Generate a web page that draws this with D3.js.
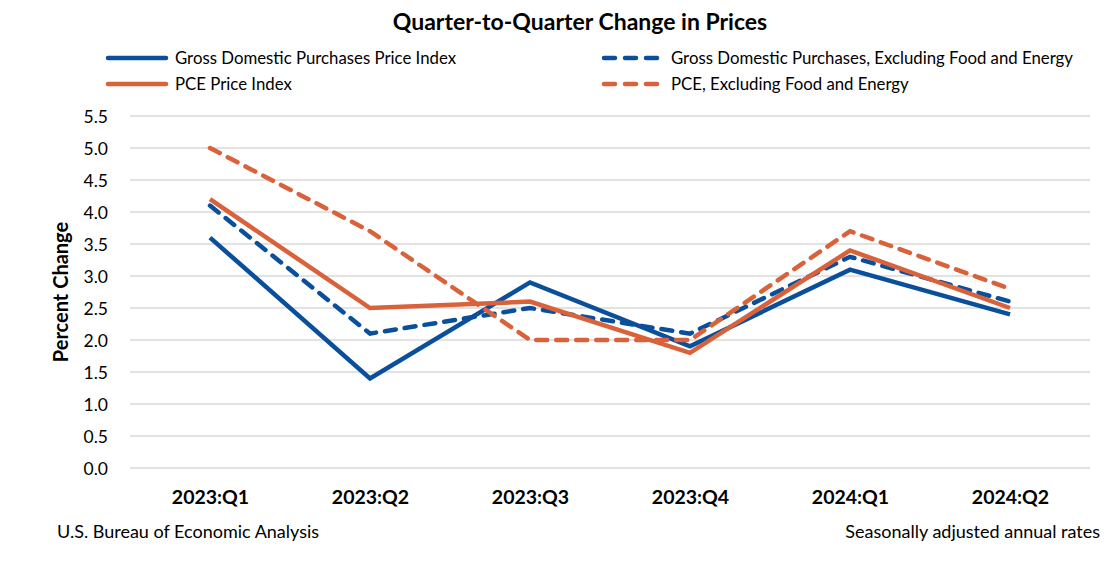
<!DOCTYPE html>
<html><head><meta charset="utf-8">
<script src="https://cdn.jsdelivr.net/npm/d3@7"></script>
<style>body{margin:0;background:#fff;} svg{display:block;font-family:Lato, "Open Sans", sans-serif;}</style>
</head><body>
<svg id="chart" width="1116" height="569"></svg>
<script>
const categories = ["2023:Q1","2023:Q2","2023:Q3","2023:Q4","2024:Q1","2024:Q2"];
const gdpPrice = [3.6, 1.4, 2.9, 1.9, 3.1, 2.4];
const gdpCore = [4.1, 2.1, 2.5, 2.1, 3.3, 2.6];
const pcePrice = [4.2, 2.5, 2.6, 1.8, 3.4, 2.5];
const pceCore = [5.0, 3.7, 2.0, 2.0, 3.7, 2.8];
const yTicks = [0,0.5,1,1.5,2,2.5,3,3.5,4,4.5,5,5.5];
const seriesNames = ["Gross Domestic Purchases Price Index","Gross Domestic Purchases, Excluding Food and Energy","PCE Price Index","PCE, Excluding Food and Energy"];

(function(){
const blue = "#0a4f9b", orange = "#d9623b";
const series = [
  {name: seriesNames[0], values: gdpPrice, color: blue, dash: null},
  {name: seriesNames[1], values: gdpCore, color: blue, dash: "11,9"},
  {name: seriesNames[2], values: pcePrice, color: orange, dash: null},
  {name: seriesNames[3], values: pceCore, color: orange, dash: "11,9"}
];

const svg = d3.select("#chart");
const pl = 130, pr = 1090, pt = 116, pb = 468;
const x = d3.scalePoint().domain(categories).range([pl, pr]).padding(0.5);
const y = d3.scaleLinear().domain([0, 5.5]).range([pb, pt]);

svg.append("text").attr("x", 580).attr("y", 30).attr("text-anchor","middle")
  .attr("font-size", 23).attr("font-weight","bold").attr("fill","#000")
  .text("Quarter-to-Quarter Change in Prices");

svg.append("g").selectAll("line").data(yTicks).join("line")
  .attr("x1", pl).attr("x2", pr)
  .attr("y1", d => y(d)).attr("y2", d => y(d))
  .attr("stroke", "#d9d9d9").attr("stroke-width", 1.5);

const yAxis = d3.axisLeft(y).tickValues(yTicks).tickFormat(d3.format(".1f")).tickSize(0).tickPadding(0);
const yg = svg.append("g").attr("transform", `translate(${pl - 22},0)`).call(yAxis);
yg.select(".domain").remove();
yg.selectAll("text").attr("font-size", 17.5).attr("fill","#000").attr("font-family","Lato, 'Open Sans', sans-serif").attr("dy","0.35em");

svg.append("text").attr("transform", `translate(68,${(pt+pb)/2 + 0}) rotate(-90)`)
  .attr("text-anchor","middle").attr("font-size", 20).attr("font-weight","bold").text("Percent Change");

const xAxis = d3.axisBottom(x).tickSize(0).tickPadding(0);
const xg = svg.append("g").attr("transform", `translate(0,${pb + 29})`).call(xAxis);
xg.select(".domain").remove();
xg.selectAll("text").attr("font-size", 19.5).attr("font-weight","bold").attr("fill","#000").attr("font-family","Lato, 'Open Sans', sans-serif").attr("dy","0.35em");

const line = d3.line().x((d,i) => x(categories[i])).y(d => y(d));
svg.append("g").selectAll("path").data(series).join("path")
  .attr("d", d => line(d.values))
  .attr("fill","none").attr("stroke", d => d.color).attr("stroke-width", 4.5)
  .attr("stroke-dasharray", d => d.dash).attr("stroke-linecap", d => d.dash ? "round" : "butt")
  .attr("stroke-linejoin","miter");

const legendPos = [
  {x: 106, y: 58}, {x: 602, y: 58}, {x: 106, y: 84}, {x: 602, y: 84}
];
const lg = svg.append("g");
series.forEach((s, i) => {
  const p = legendPos[i];
  lg.append("line").attr("x1", p.x + 2).attr("x2", p.x + 60).attr("y1", p.y).attr("y2", p.y)
    .attr("stroke", s.color).attr("stroke-width", 4.5).attr("stroke-linecap","round")
    .attr("stroke-dasharray", s.dash ? "11,10" : null);
  lg.append("text").attr("x", p.x + (s.dash ? 69 : 69)).attr("y", p.y).attr("dy","0.35em")
    .attr("font-size", 16.8).attr("fill","#000").text(s.name);
});

svg.append("text").attr("x", 57).attr("y", 532).attr("dy","0.35em").attr("font-size", 18).text("U.S. Bureau of Economic Analysis");
svg.append("text").attr("x", 1100).attr("y", 532).attr("dy","0.35em").attr("text-anchor","end").attr("font-size", 18).text("Seasonally adjusted annual rates");
})();
</script>
</body></html>
